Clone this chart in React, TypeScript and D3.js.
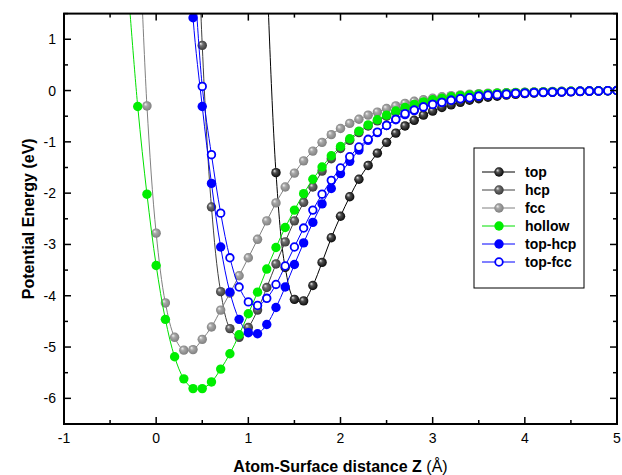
import React from "react";
import * as d3 from "d3";

// sampling grid of the scan (Å)
const zValues = [
  -0.3, -0.2, -0.1, 0.0, 0.1, 0.2, 0.3, 0.4, 0.5, 0.6, 0.7, 0.8, 0.9, 1.0,
  1.1, 1.2, 1.3, 1.4, 1.5, 1.6, 1.7, 1.8, 1.9, 2.0, 2.1, 2.2, 2.3, 2.4, 2.5,
  2.6, 2.7, 2.8, 2.9, 3.0, 3.1, 3.2, 3.3, 3.4, 3.5, 3.6, 3.7, 3.8, 3.9, 4.0,
  4.1, 4.2, 4.3, 4.4, 4.5, 4.6, 4.7, 4.8, 4.9, 5.0,
];

// energies (eV), each series starts at its own z
const topE = [
  2.4, -1.6, -3.45, -4.07, -4.1, -3.8, -3.35, -2.87, -2.45, -2.07, -1.73,
  -1.46, -1.22, -1.01, -0.83, -0.69, -0.58, -0.48, -0.4, -0.33, -0.28, -0.23,
  -0.19, -0.16, -0.13, -0.11, -0.09, -0.075, -0.06, -0.05, -0.04, -0.035,
  -0.03, -0.025, -0.02, -0.015, -0.01, -0.005, 0,
];
const hcpE = [
  6.0, 0.88, -2.27, -3.92, -4.64, -4.81, -4.62, -4.28, -3.84, -3.38, -2.95,
  -2.54, -2.18, -1.88, -1.57, -1.33, -1.13, -0.97, -0.82, -0.69, -0.59, -0.5,
  -0.42, -0.35, -0.29, -0.24, -0.2, -0.16, -0.13, -0.11, -0.09, -0.075,
  -0.065, -0.055, -0.045, -0.04, -0.035, -0.03, -0.025, -0.02, -0.017,
  -0.014, -0.011, -0.008, -0.005, -0.003, 0,
];
const fccE = [
  3.9, -0.3, -2.78, -4.14, -4.81, -5.06, -5.05, -4.85, -4.61, -4.28, -3.95,
  -3.61, -3.26, -2.9, -2.54, -2.19, -1.88, -1.61, -1.37, -1.18, -1.01, -0.86,
  -0.74, -0.64, -0.56, -0.48, -0.42, -0.35, -0.3, -0.25, -0.21, -0.18, -0.15,
  -0.12, -0.1, -0.085, -0.07, -0.06, -0.05, -0.045, -0.04, -0.035, -0.03,
  -0.025, -0.02, -0.017, -0.014, -0.011, -0.008, -0.005, -0.003, -0.001, 0,
];
const hollowE = [
  1.9, -0.31, -2.02, -3.41, -4.46, -5.19, -5.62, -5.81, -5.81, -5.68, -5.43,
  -5.13, -4.76, -4.35, -3.93, -3.48, -3.06, -2.67, -2.33, -2.01, -1.73,
  -1.49, -1.27, -1.09, -0.94, -0.79, -0.67, -0.57, -0.48, -0.4, -0.33, -0.27,
  -0.22, -0.18, -0.15, -0.12, -0.1, -0.085, -0.07, -0.06, -0.05, -0.045,
  -0.04, -0.035, -0.03, -0.025, -0.02, -0.017, -0.014, -0.011, -0.008,
  -0.005, -0.003, 0,
];
const topHcpE = [
  5.0, 1.42, -0.31, -1.81, -3.05, -3.93, -4.46, -4.72, -4.74, -4.56, -4.23,
  -3.83, -3.39, -2.97, -2.57, -2.21, -1.91, -1.62, -1.38, -1.16, -0.97,
  -0.82, -0.68, -0.57, -0.47, -0.39, -0.32, -0.27, -0.23, -0.19, -0.16,
  -0.14, -0.11, -0.09, -0.08, -0.07, -0.055, -0.05, -0.04, -0.035, -0.03,
  -0.025, -0.02, -0.015, -0.01, -0.008, -0.004, 0,
];
const topFccE = [
  2.7, 0.08, -1.25, -2.39, -3.26, -3.83, -4.12, -4.19, -4.05, -3.78, -3.42,
  -3.05, -2.68, -2.33, -2.02, -1.75, -1.51, -1.29, -1.1, -0.95, -0.81, -0.68,
  -0.56, -0.45, -0.38, -0.32, -0.27, -0.23, -0.19, -0.16, -0.14, -0.11,
  -0.09, -0.08, -0.07, -0.055, -0.05, -0.04, -0.035, -0.03, -0.025, -0.02,
  -0.015, -0.01, -0.008, -0.004, 0,
];

const seriesNames = ["top", "hcp", "fcc", "hollow", "top-hcp", "top-fcc"];
const seriesStart = [1.2, 0.4, -0.2, -0.3, 0.3, 0.4];
const seriesValues = [topE, hcpE, fccE, hollowE, topHcpE, topFccE];

const xTicks = [-1, 0, 1, 2, 3, 4, 5];
const yTicks = [-6, -5, -4, -3, -2, -1, 0, 1];

const width = 622;
const height = 475;
const plot = { left: 64, right: 617, top: 13.6, bottom: 424 };

const styles = [
  { line: "#000", fill: "url(#sph-top)", stroke: "none" },
  { line: "#404040", fill: "url(#sph-hcp)", stroke: "none" },
  { line: "#808080", fill: "url(#sph-fcc)", stroke: "none" },
  { line: "#00e000", fill: "#00ee00", stroke: "none" },
  { line: "#0000ff", fill: "#0000ff", stroke: "none" },
  { line: "#0000ff", fill: "#fff", stroke: "#0000ff" },
];

const font = "Arial, 'Liberation Sans', sans-serif";

export default function App() {
  const x = d3.scaleLinear().domain([-1, 5]).range([plot.left, plot.right]);
  const y = d3.scaleLinear().domain([-6.5, 1.5]).range([plot.bottom, plot.top]);

  const data = seriesValues.map((vals, s) => {
    const i0 = zValues.findIndex((z) => Math.abs(z - seriesStart[s]) < 1e-6);
    return vals.map((e, i) => ({ z: zValues[i0 + i], e }));
  });

  const line = d3
    .line<{ z: number; e: number }>()
    .x((d) => x(d.z))
    .y((d) => y(d.e))
    .curve(d3.curveCatmullRom.alpha(0.5));

  const xMinor = d3.range(-1, 5.01, 0.5).filter((v) => !xTicks.includes(v));
  const yMinor = d3.range(-6.5, 1.51, 0.5).filter((v) => !yTicks.includes(v));

  const r = 4.7;
  const major = 7;
  const minor = 4;

  const legend = { x: 474, y: 148, w: 110, h: 140 };

  const marker = (s: number, cx: number, cy: number, key?: string | number) => (
    <circle
      key={key}
      cx={cx}
      cy={cy}
      r={styles[s].stroke === "none" ? r : r - 0.9}
      fill={styles[s].fill}
      stroke={styles[s].stroke}
      strokeWidth={styles[s].stroke === "none" ? 0 : 1.8}
    />
  );

  const sphere = (id: string, hi: string, mid: string, base: string) => (
    <radialGradient id={id} cx="0.5" cy="0.5" r="0.55" fx="0.32" fy="0.3">
      <stop offset="0" stopColor={hi} />
      <stop offset="0.35" stopColor={mid} />
      <stop offset="1" stopColor={base} />
    </radialGradient>
  );

  return (
    <svg
      width={width}
      height={height}
      style={{ position: "absolute", left: 0, top: 0, background: "#fff" }}
      fontFamily={font}
    >
      <defs>
        {sphere("sph-top", "#e8e8e8", "#505050", "#000")}
        {sphere("sph-hcp", "#eeeeee", "#707070", "#333")}
        {sphere("sph-fcc", "#f4f4f4", "#a8a8a8", "#7a7a7a")}
        <clipPath id="plot-clip">
          <rect
            x={plot.left}
            y={plot.top}
            width={plot.right - plot.left}
            height={plot.bottom - plot.top}
          />
        </clipPath>
      </defs>

      <g clipPath="url(#plot-clip)">
        {data.map((pts, s) => (
          <g key={seriesNames[s]}>
            <path d={line(pts) || ""} fill="none" stroke={styles[s].line} strokeWidth={1} />
            {pts.map((d, i) => marker(s, x(d.z), y(d.e), i))}
          </g>
        ))}
      </g>

      {/* frame */}
      <rect
        x={plot.left}
        y={plot.top}
        width={plot.right - plot.left}
        height={plot.bottom - plot.top}
        fill="none"
        stroke="#000"
        strokeWidth={2}
      />

      {/* x ticks, bottom and top, pointing in */}
      {xTicks.map((t) => (
        <g key={"xt" + t}>
          <line x1={x(t)} x2={x(t)} y1={plot.bottom} y2={plot.bottom - major} stroke="#000" strokeWidth={1.5} />
          <line x1={x(t)} x2={x(t)} y1={plot.top} y2={plot.top + major} stroke="#000" strokeWidth={1.5} />
          <text x={x(t)} y={443} textAnchor="middle" fontSize={14}>
            {t}
          </text>
        </g>
      ))}
      {xMinor.map((t) => (
        <g key={"xm" + t}>
          <line x1={x(t)} x2={x(t)} y1={plot.bottom} y2={plot.bottom - minor} stroke="#000" strokeWidth={1.5} />
          <line x1={x(t)} x2={x(t)} y1={plot.top} y2={plot.top + minor} stroke="#000" strokeWidth={1.5} />
        </g>
      ))}

      {/* y ticks, left and right */}
      {yTicks.map((t) => (
        <g key={"yt" + t}>
          <line x1={plot.left} x2={plot.left + major} y1={y(t)} y2={y(t)} stroke="#000" strokeWidth={1.5} />
          <line x1={plot.right} x2={plot.right - major} y1={y(t)} y2={y(t)} stroke="#000" strokeWidth={1.5} />
          <text x={56} y={y(t)} dy="0.36em" textAnchor="end" fontSize={14}>
            {t}
          </text>
        </g>
      ))}
      {yMinor.map((t) => (
        <g key={"ym" + t}>
          <line x1={plot.left} x2={plot.left + minor} y1={y(t)} y2={y(t)} stroke="#000" strokeWidth={1.5} />
          <line x1={plot.right} x2={plot.right - minor} y1={y(t)} y2={y(t)} stroke="#000" strokeWidth={1.5} />
        </g>
      ))}

      {/* axis titles */}
      <text
        transform={`translate(34, ${(plot.top + plot.bottom) / 2}) rotate(-90)`}
        textAnchor="middle"
        fontSize={16}
        fontWeight="bold"
      >
        Potential Energy (eV)
      </text>
      <text x={(plot.left + plot.right) / 2} y={472} textAnchor="middle" fontSize={16}>
        <tspan fontWeight="bold">Atom-Surface distance Z </tspan>
        <tspan>(Å)</tspan>
      </text>

      {/* legend */}
      <rect x={legend.x} y={legend.y} width={legend.w} height={legend.h} fill="#fff" stroke="#000" strokeWidth={1} />
      {seriesNames.map((name, s) => {
        const ly = 172 + s * 18;
        return (
          <g key={"lg" + name}>
            <line x1={482} x2={515} y1={ly} y2={ly} stroke={styles[s].line} strokeWidth={1} />
            {marker(s, 499, ly)}
            <text x={525} y={ly} dy="0.36em" fontSize={14} fontWeight="bold">
              {name}
            </text>
          </g>
        );
      })}
    </svg>
  );
}
